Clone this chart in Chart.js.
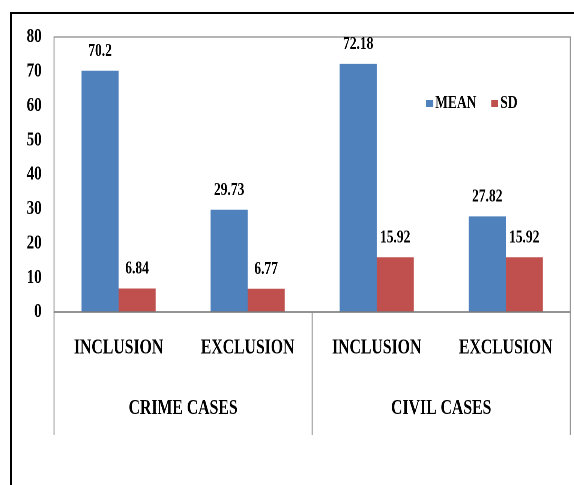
<!DOCTYPE html>
<html>
<head>
<meta charset="utf-8">
<script src="https://cdn.jsdelivr.net/npm/chart.js@4/dist/chart.umd.min.js"></script>
<style>
  html, body { margin: 0; padding: 0; background: #fff; }
  body { width: 574px; height: 485px; position: relative; overflow: hidden; }
  .frame { position: absolute; left: 10px; top: 12px; right: 0; bottom: 0;
           border-top: 2px solid #000; border-left: 2px solid #000; }
  #chart { position: absolute; left: 0; top: 0; }
</style>
</head>
<body>
<div class="frame"></div>
<!-- drawn wider, then squeezed to 574px like the original picture -->
<canvas id="chart" width="765" height="485" style="width:574px;height:485px"></canvas>
<script>
const categories = ['INCLUSION', 'EXCLUSION', 'INCLUSION', 'EXCLUSION'];
const groups = ['CRIME CASES', 'CIVIL CASES'];
const meanValues = [70.2, 29.73, 72.18, 27.82];
const sdValues = [6.84, 6.77, 15.92, 15.92];
const seriesNames = ['MEAN', 'SD'];
const seriesColors = ['#4F81BD', '#C0504D'];
const yMin = 0, yMax = 80, yStep = 10;

const serif = 'Liberation Serif';

const framePlugin = {
    id: 'frame',
    beforeDraw(chart) {
        const { ctx, chartArea: a, scales } = chart;
        ctx.save();
        ctx.strokeStyle = '#8c8c8c';
        ctx.lineWidth = 1.3;
        ctx.strokeRect(a.left, a.top, a.right - a.left, a.bottom - a.top);
        ctx.restore();
    },
    afterDraw(chart) {
        const { ctx, chartArea: a, scales } = chart;
        const x = scales.x, x2 = scales.x2;
        // baseline
        ctx.save();
        ctx.strokeStyle = '#7a7a7a';
        ctx.lineWidth = 1.5;
        ctx.beginPath();
        ctx.moveTo(a.left, a.bottom);
        ctx.lineTo(a.right, a.bottom);
        ctx.stroke();
        // group separators under the axis
        const mid = (x.getPixelForTick(1) + x.getPixelForTick(2)) / 2;
        ctx.strokeStyle = '#8c8c8c';
        ctx.lineWidth = 1.3;
        [a.left, mid, a.right].forEach(px => {
            ctx.beginPath();
            ctx.moveTo(px, a.bottom);
            ctx.lineTo(px, x2.bottom);
            ctx.stroke();
        });
        // value labels above bars
        ctx.fillStyle = '#000';
        ctx.font = 'bold 18px "' + serif + '"';
        ctx.textAlign = 'center';
        ctx.textBaseline = 'middle';
        chart.data.datasets.forEach((ds, i) => {
            chart.getDatasetMeta(i).data.forEach((bar, j) => {
                ctx.fillText(String(ds.data[j]), bar.x, bar.y - 19.5);
            });
        });
        // legend inside the plot
        const ly = a.top + 66.5;
        const items = [{ box: 496, text: 508 }, { box: 582.7, text: 594.7 }];
        ctx.textAlign = 'left';
        items.forEach((it, i) => {
            ctx.fillStyle = seriesColors[i];
            ctx.fillRect(a.left + it.box, ly - 3.5, 9.3, 7);
            ctx.fillStyle = '#000';
            ctx.fillText(seriesNames[i], a.left + it.text, ly);
        });
        ctx.restore();
    }
};

new Chart(document.getElementById('chart'), {
    type: 'bar',
    data: {
        labels: categories,
        datasets: [
            {
                label: seriesNames[0],
                data: meanValues,
                backgroundColor: seriesColors[0],
                categoryPercentage: 0.574,
                barPercentage: 1
            },
            {
                label: seriesNames[1],
                data: sdValues,
                backgroundColor: seriesColors[1],
                categoryPercentage: 0.574,
                barPercentage: 1
            }
        ]
    },
    options: {
        responsive: false,
        devicePixelRatio: 2,
        animation: false,
        layout: { padding: { top: 37, right: 5, bottom: 50, left: 0 } },
        plugins: {
            legend: { display: false },
            tooltip: { enabled: false }
        },
        scales: {
            y: {
                min: yMin,
                max: yMax,
                ticks: {
                    stepSize: yStep,
                    padding: 16.5,
                    color: '#000',
                    font: { family: serif, size: 20, weight: 'bold' }
                },
                grid: { display: false, drawTicks: false },
                border: { display: false },
                afterFit(scale) { scale.width = 72; }
            },
            x: {
                weight: 0,
                ticks: {
                    padding: 23.4,
                    color: '#000',
                    maxRotation: 0,
                    autoSkip: false,
                    font: { family: serif, size: 21, weight: 'bold' }
                },
                grid: { display: false, drawTicks: false },
                border: { display: false },
                afterFit(scale) { scale.height = 66; }
            },
            x2: {
                type: 'category',
                labels: groups,
                position: 'bottom',
                offset: true,
                weight: 1,
                ticks: {
                    padding: 18,
                    color: '#000',
                    maxRotation: 0,
                    autoSkip: false,
                    font: { family: serif, size: 21, weight: 'bold' }
                },
                grid: { display: false, drawTicks: false },
                border: { display: false },
                afterFit(scale) { scale.height = 57; }
            }
        }
    },
    plugins: [framePlugin]
});
</script>
</body>
</html>
